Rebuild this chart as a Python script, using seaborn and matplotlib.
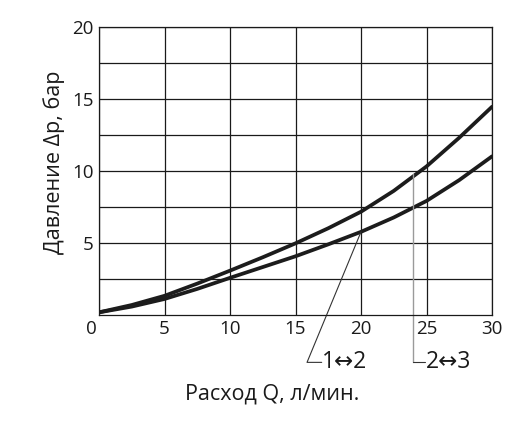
import numpy as np
import pandas as pd
import matplotlib
matplotlib.use("Agg")
import matplotlib.pyplot as plt
import matplotlib.transforms as mtransforms
import seaborn as sns

flow = [0, 2.5, 5, 7.5, 10, 12.5, 15, 17.5, 20, 22.5, 25, 27.5, 30]
dp_12 = [0.15, 0.55, 1.08, 1.78, 2.55, 3.3, 4.05, 4.88, 5.75, 6.75, 7.9, 9.35, 11.0]
dp_23 = [0.15, 0.66, 1.3, 2.15, 3.05, 3.98, 4.95, 6.0, 7.15, 8.6, 10.3, 12.3, 14.45]
x_ticks = [0, 5, 10, 15, 20, 25, 30]
y_ticks = [5, 10, 15, 20]
label_12 = "1↔2"
label_23 = "2↔3"
xlabel = "Расход Q, л/мин."
ylabel = "Давление Δр, бар"

df = pd.DataFrame({
    "Q": flow * 2,
    "dp": dp_12 + dp_23,
    "mode": [label_12] * len(flow) + [label_23] * len(flow),
})

sns.set_theme(style="white")
plt.rcParams['font.family'] = ['Open Sans', 'DejaVu Sans']

fig = plt.figure(figsize=(5.28, 4.25), dpi=100)
ax = fig.add_axes([99/528, 1-314.5/425, 393/528, 287.5/425])

sns.lineplot(data=df, x="Q", y="dp", hue="mode", palette=["#1c1c1c", "#1c1c1c"],
             linewidth=2.7, legend=False, ax=ax, estimator=None, sort=True)
for ln in ax.get_lines():
    ln.set_solid_joinstyle("round")
    ln.set_solid_capstyle("round")

ax.set_xlim(0, 30)
ax.set_ylim(0, 20)
ax.set_xticks(x_ticks)
ax.set_yticks(y_ticks)
ax.set_yticks([2.5, 7.5, 12.5, 17.5], minor=True)
ax.grid(True, which="both", color="#1a1a1a", linewidth=0.9)
for s in ax.spines.values():
    s.set_color("#1a1a1a")
    s.set_linewidth(0.9)
ax.tick_params(axis="both", which="both", length=0, labelsize=13.5, colors="#1a1a1a")
ax.tick_params(axis="x", pad=4)
ax.tick_params(axis="y", pad=4)

# shift "0" label slightly left
lbl0 = ax.get_xticklabels()[0]
lbl0.set_transform(lbl0.get_transform() + mtransforms.ScaledTranslation(-8/100, 0, fig.dpi_scale_trans))

ax.set_xlabel(xlabel, fontsize=15.5, color="#1a1a1a")
ax.set_ylabel(ylabel, fontsize=15.5, color="#1a1a1a")
ax.xaxis.set_label_coords(0.44, -0.278)
ax.yaxis.set_label_coords(-0.1145, 0.528)
ax.xaxis.label.set_va("center")
ax.yaxis.label.set_va("center")

# leaders
ax.plot([20, 15.88, 17.0], [5.75, -3.33, -3.33], color="#333333", linewidth=0.8, clip_on=False)
ax.text(17.05, -3.33, label_12, fontsize=16.5, va="center", ha="left", color="#1a1a1a")
ax.plot([24.0, 24.0], [9.75, -3.33], color="#9a9a9a", linewidth=1.0, clip_on=False)
ax.plot([24.0, 24.9], [-3.33, -3.33], color="#333333", linewidth=0.8, clip_on=False)
ax.text(24.95, -3.33, label_23, fontsize=16.5, va="center", ha="left", color="#1a1a1a")

fig.savefig("out.png", dpi=100)
